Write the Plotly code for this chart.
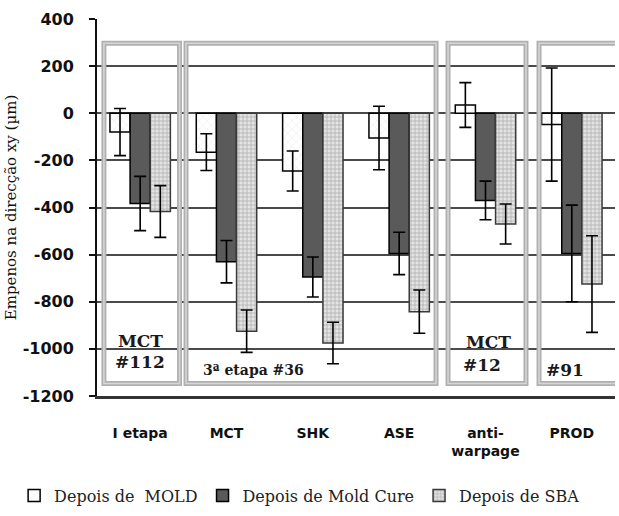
import plotly.graph_objects as go

categories = ["I etapa", "MCT", "SHK", "ASE", "anti-<br>warpage", "PROD"]
mold = [-80, -165, -245, -105, 35, -48]
mold_err = [100, 78, 85, 135, 95, 240]
cure = [-383, -630, -695, -595, -370, -595]
cure_err = [115, 90, 85, 90, 82, 205]
sba = [-417, -925, -975, -842, -470, -725]
sba_err = [110, 90, 88, 92, 85, 205]
y_ticks = [400, 200, 0, -200, -400, -600, -800, -1000, -1200]
y_tick_text = ["400", "200", "0", "-200", "-400", "-600", "-800", "-1000", "-1200"]

series_names = ["Depois de  MOLD", "Depois de Mold Cure", "Depois de SBA"]

# group frames: (x0, x1) in category index units, y extent in data units
frames = [(-0.42, 0.456), (0.531, 3.427), (3.566, 4.469), (4.62, 5.7)]
frame_y = (-1147, 297)
frame_labels = [
    ("MCT", 0.0, -967, 17),
    ("#112", 0.0, -1055, 17),
    ("3ª etapa #36", 1.31, -1088, 14),
    ("MCT", 4.03, -971, 17),
    ("#12", 3.96, -1067, 17),
    ("#91", 4.92, -1088, 17),
]

fig = go.Figure()
fig.add_bar(
    x=categories, y=mold, name=series_names[0],
    error_y=dict(type="data", array=mold_err, color="black", thickness=1.6, width=6),
    marker=dict(color="white", line=dict(color="black", width=1.5),
                pattern=dict(shape="x", fgcolor="#c4c4c4", bgcolor="white", size=6, solidity=0.12)),
)
fig.add_bar(
    x=categories, y=cure, name=series_names[1],
    error_y=dict(type="data", array=cure_err, color="black", thickness=1.6, width=6),
    marker=dict(color="#5a5a5a", line=dict(color="black", width=1.5)),
)
fig.add_bar(
    x=categories, y=sba, name=series_names[2],
    error_y=dict(type="data", array=sba_err, color="black", thickness=1.6, width=6),
    marker=dict(color="#d8d8d8", line=dict(color="#3a3a3a", width=1.5),
                pattern=dict(shape="+", fgcolor="#7a7a7a", bgcolor="#e4e4e4", size=4, solidity=0.35)),
)

for x0, x1 in frames:
    fig.add_shape(type="rect", xref="x", yref="y", x0=x0, x1=x1, y0=frame_y[0], y1=frame_y[1],
                  line=dict(color="#b0b0b0", width=5), layer="above")
    fig.add_shape(type="rect", xref="x", yref="y", x0=x0, x1=x1, y0=frame_y[0], y1=frame_y[1],
                  line=dict(color="#d6d6d6", width=1.5), layer="above")

for txt, xx, yy, sz in frame_labels:
    fig.add_annotation(x=xx, y=yy, xref="x", yref="y", text="<b>%s</b>" % txt, showarrow=False,
                       font=dict(family="DejaVu Serif", size=sz, color="#1a1a1a"))

fig.update_layout(
    width=619, height=516,
    margin=dict(l=97, r=4, t=19, b=114),
    paper_bgcolor="white", plot_bgcolor="white",
    barmode="group", bargap=0.3, bargroupgap=0,
    showlegend=True,
    legend=dict(orientation="h", x=-0.16, xanchor="left", y=-0.264, yanchor="middle",
                font=dict(family="DejaVu Serif", size=16, color="#222"),
                bgcolor="rgba(0,0,0,0)", itemwidth=30, traceorder="normal"),
)
fig.update_xaxes(
    range=[-0.5, 5.5], showgrid=False, showline=True, linecolor="#333333", linewidth=3,
    ticks="", ticklabelstandoff=22,
    tickfont=dict(family="DejaVu Sans", size=14, color="#111", weight="bold"),
)
fig.update_yaxes(
    range=[-1200, 400], tickvals=y_ticks, ticktext=y_tick_text,
    showgrid=True, gridcolor="#4a4a4a", gridwidth=2,
    zeroline=True, zerolinecolor="#4a4a4a", zerolinewidth=2,
    showline=True, linecolor="#111", linewidth=2, ticks="outside", ticklen=6, tickwidth=2,
    tickcolor="#111", ticklabelstandoff=12,
    tickfont=dict(family="DejaVu Sans", size=16, color="#111", weight="bold"),
    title=dict(text="Empenos na direcção xy (µm)", standoff=2,
               font=dict(family="DejaVu Serif", size=15, color="#111")),
)

fig.write_html("out.html")
